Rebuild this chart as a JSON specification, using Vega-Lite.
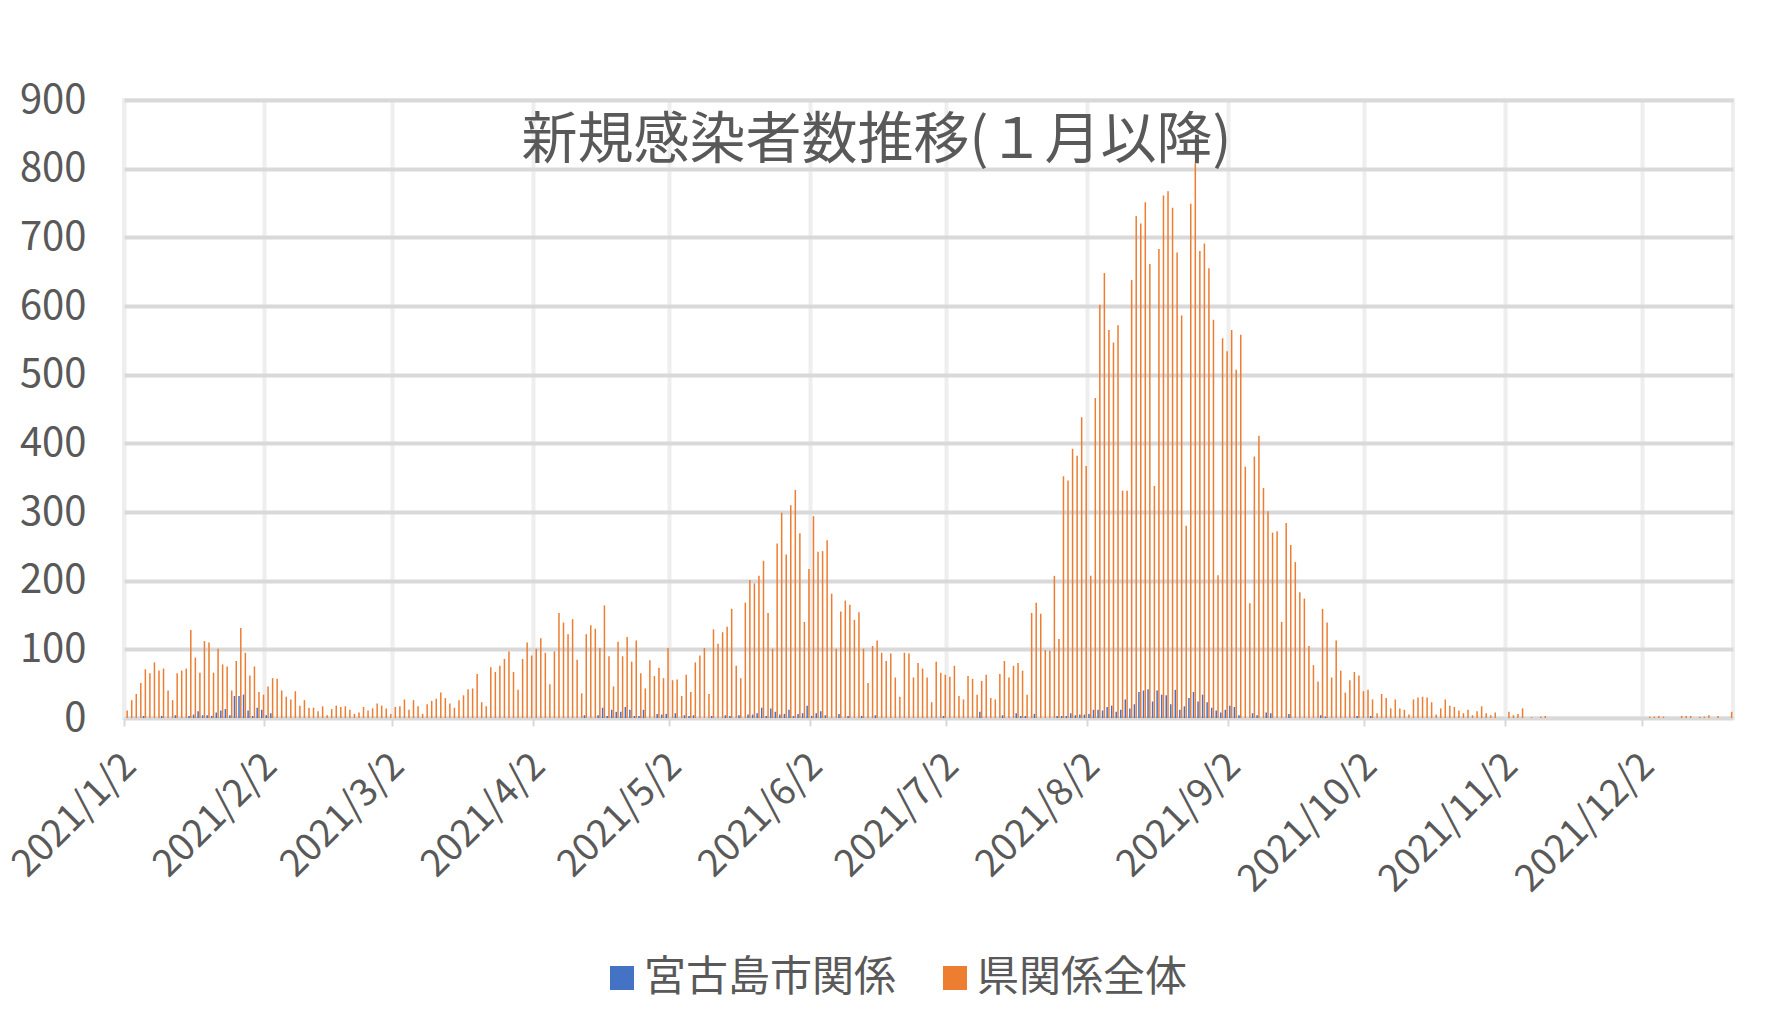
{
"$schema": "https://vega.github.io/schema/vega-lite/v6.json",
"width": 1609, "height": 618,
"autosize": {"type": "none"},
"padding": {"left": 124, "top": 100, "right": 35, "bottom": 293},
"background": "#ffffff",
"title": {"text": "新規感染者数推移(１月以降)", "fontSize": 56, "fontWeight": "normal", "color": "#595959", "anchor": "middle", "frame": "group", "offset": 0, "dx": -52, "dy": 90},
"data": {"values": [
{"d":"2021/1/2","m":0,"k":11},{"d":"2021/1/3","m":0,"k":26},{"d":"2021/1/4","m":0,"k":35},{"d":"2021/1/5","m":0,"k":51},{"d":"2021/1/6","m":3,"k":71},{"d":"2021/1/7","m":0,"k":65},{"d":"2021/1/8","m":0,"k":81},{"d":"2021/1/9","m":0,"k":69},{"d":"2021/1/10","m":3,"k":72},{"d":"2021/1/11","m":0,"k":40},{"d":"2021/1/12","m":0,"k":26},{"d":"2021/1/13","m":4,"k":65},{"d":"2021/1/14","m":0,"k":69},{"d":"2021/1/15","m":0,"k":72},{"d":"2021/1/16","m":3,"k":128},{"d":"2021/1/17","m":5,"k":88},{"d":"2021/1/18","m":10,"k":66},{"d":"2021/1/19","m":4,"k":112},{"d":"2021/1/20","m":4,"k":110},{"d":"2021/1/21","m":3,"k":66},{"d":"2021/1/22","m":8,"k":101},{"d":"2021/1/23","m":11,"k":78},{"d":"2021/1/24","m":13,"k":75},{"d":"2021/1/25","m":4,"k":40},{"d":"2021/1/26","m":32,"k":83},{"d":"2021/1/27","m":32,"k":131},{"d":"2021/1/28","m":34,"k":95},{"d":"2021/1/29","m":11,"k":62},{"d":"2021/1/30","m":3,"k":75},{"d":"2021/1/31","m":15,"k":38},
{"d":"2021/2/1","m":12,"k":34},{"d":"2021/2/2","m":4,"k":46},{"d":"2021/2/3","m":7,"k":58},{"d":"2021/2/4","m":0,"k":57},{"d":"2021/2/5","m":0,"k":40},{"d":"2021/2/6","m":0,"k":31},{"d":"2021/2/7","m":0,"k":27},{"d":"2021/2/8","m":0,"k":39},{"d":"2021/2/9","m":0,"k":18},{"d":"2021/2/10","m":0,"k":26},{"d":"2021/2/11","m":0,"k":15},{"d":"2021/2/12","m":0,"k":15},{"d":"2021/2/13","m":0,"k":10},{"d":"2021/2/14","m":0,"k":17},{"d":"2021/2/15","m":0,"k":4},{"d":"2021/2/16","m":0,"k":13},{"d":"2021/2/17","m":0,"k":18},{"d":"2021/2/18","m":0,"k":16},{"d":"2021/2/19","m":0,"k":17},{"d":"2021/2/20","m":0,"k":12},{"d":"2021/2/21","m":0,"k":6},{"d":"2021/2/22","m":0,"k":8},{"d":"2021/2/23","m":0,"k":16},{"d":"2021/2/24","m":0,"k":11},{"d":"2021/2/25","m":0,"k":14},{"d":"2021/2/26","m":0,"k":21},{"d":"2021/2/27","m":0,"k":18},{"d":"2021/2/28","m":0,"k":14},
{"d":"2021/3/1","m":0,"k":6},{"d":"2021/3/2","m":0,"k":16},{"d":"2021/3/3","m":0,"k":17},{"d":"2021/3/4","m":0,"k":27},{"d":"2021/3/5","m":0,"k":12},{"d":"2021/3/6","m":0,"k":26},{"d":"2021/3/7","m":0,"k":17},{"d":"2021/3/8","m":0,"k":6},{"d":"2021/3/9","m":0,"k":20},{"d":"2021/3/10","m":0,"k":25},{"d":"2021/3/11","m":0,"k":28},{"d":"2021/3/12","m":0,"k":37},{"d":"2021/3/13","m":0,"k":29},{"d":"2021/3/14","m":0,"k":21},{"d":"2021/3/15","m":0,"k":15},{"d":"2021/3/16","m":0,"k":26},{"d":"2021/3/17","m":0,"k":33},{"d":"2021/3/18","m":0,"k":42},{"d":"2021/3/19","m":0,"k":43},{"d":"2021/3/20","m":0,"k":64},{"d":"2021/3/21","m":0,"k":23},{"d":"2021/3/22","m":0,"k":17},{"d":"2021/3/23","m":0,"k":74},{"d":"2021/3/24","m":0,"k":67},{"d":"2021/3/25","m":0,"k":76},{"d":"2021/3/26","m":0,"k":86},{"d":"2021/3/27","m":0,"k":97},{"d":"2021/3/28","m":0,"k":67},{"d":"2021/3/29","m":0,"k":41},{"d":"2021/3/30","m":0,"k":86},{"d":"2021/3/31","m":0,"k":110},
{"d":"2021/4/1","m":0,"k":91},{"d":"2021/4/2","m":0,"k":101},{"d":"2021/4/3","m":0,"k":116},{"d":"2021/4/4","m":0,"k":95},{"d":"2021/4/5","m":0,"k":49},{"d":"2021/4/6","m":0,"k":97},{"d":"2021/4/7","m":0,"k":153},{"d":"2021/4/8","m":0,"k":139},{"d":"2021/4/9","m":0,"k":122},{"d":"2021/4/10","m":0,"k":144},{"d":"2021/4/11","m":0,"k":85},{"d":"2021/4/12","m":0,"k":36},{"d":"2021/4/13","m":4,"k":122},{"d":"2021/4/14","m":0,"k":135},{"d":"2021/4/15","m":0,"k":130},{"d":"2021/4/16","m":4,"k":102},{"d":"2021/4/17","m":15,"k":164},{"d":"2021/4/18","m":3,"k":90},{"d":"2021/4/19","m":12,"k":46},{"d":"2021/4/20","m":9,"k":111},{"d":"2021/4/21","m":9,"k":90},{"d":"2021/4/22","m":16,"k":118},{"d":"2021/4/23","m":12,"k":82},{"d":"2021/4/24","m":3,"k":113},{"d":"2021/4/25","m":3,"k":65},{"d":"2021/4/26","m":12,"k":43},{"d":"2021/4/27","m":0,"k":84},{"d":"2021/4/28","m":0,"k":61},{"d":"2021/4/29","m":6,"k":73},{"d":"2021/4/30","m":5,"k":58},
{"d":"2021/5/1","m":6,"k":102},{"d":"2021/5/2","m":0,"k":55},{"d":"2021/5/3","m":7,"k":56},{"d":"2021/5/4","m":0,"k":32},{"d":"2021/5/5","m":4,"k":63},{"d":"2021/5/6","m":3,"k":38},{"d":"2021/5/7","m":4,"k":81},{"d":"2021/5/8","m":0,"k":91},{"d":"2021/5/9","m":0,"k":102},{"d":"2021/5/10","m":0,"k":35},{"d":"2021/5/11","m":3,"k":129},{"d":"2021/5/12","m":0,"k":108},{"d":"2021/5/13","m":0,"k":125},{"d":"2021/5/14","m":4,"k":133},{"d":"2021/5/15","m":3,"k":159},{"d":"2021/5/16","m":0,"k":76},{"d":"2021/5/17","m":4,"k":58},{"d":"2021/5/18","m":0,"k":168},{"d":"2021/5/19","m":5,"k":201},{"d":"2021/5/20","m":5,"k":196},{"d":"2021/5/21","m":7,"k":207},{"d":"2021/5/22","m":15,"k":229},{"d":"2021/5/23","m":3,"k":153},{"d":"2021/5/24","m":14,"k":101},{"d":"2021/5/25","m":9,"k":254},{"d":"2021/5/26","m":5,"k":299},{"d":"2021/5/27","m":6,"k":238},{"d":"2021/5/28","m":12,"k":310},{"d":"2021/5/29","m":3,"k":332},{"d":"2021/5/30","m":6,"k":269},{"d":"2021/5/31","m":7,"k":140},
{"d":"2021/6/1","m":18,"k":217},{"d":"2021/6/2","m":3,"k":294},{"d":"2021/6/3","m":7,"k":242},{"d":"2021/6/4","m":10,"k":243},{"d":"2021/6/5","m":4,"k":259},{"d":"2021/6/6","m":0,"k":181},{"d":"2021/6/7","m":0,"k":101},{"d":"2021/6/8","m":6,"k":155},{"d":"2021/6/9","m":0,"k":171},{"d":"2021/6/10","m":3,"k":165},{"d":"2021/6/11","m":0,"k":143},{"d":"2021/6/12","m":0,"k":154},{"d":"2021/6/13","m":3,"k":101},{"d":"2021/6/14","m":0,"k":51},{"d":"2021/6/15","m":0,"k":105},{"d":"2021/6/16","m":4,"k":113},{"d":"2021/6/17","m":0,"k":95},{"d":"2021/6/18","m":0,"k":83},{"d":"2021/6/19","m":0,"k":94},{"d":"2021/6/20","m":0,"k":59},{"d":"2021/6/21","m":0,"k":31},{"d":"2021/6/22","m":0,"k":95},{"d":"2021/6/23","m":0,"k":94},{"d":"2021/6/24","m":0,"k":59},{"d":"2021/6/25","m":0,"k":80},{"d":"2021/6/26","m":0,"k":72},{"d":"2021/6/27","m":0,"k":59},{"d":"2021/6/28","m":0,"k":23},{"d":"2021/6/29","m":0,"k":82},{"d":"2021/6/30","m":0,"k":66},
{"d":"2021/7/1","m":3,"k":63},{"d":"2021/7/2","m":0,"k":60},{"d":"2021/7/3","m":0,"k":76},{"d":"2021/7/4","m":0,"k":32},{"d":"2021/7/5","m":0,"k":27},{"d":"2021/7/6","m":0,"k":61},{"d":"2021/7/7","m":0,"k":57},{"d":"2021/7/8","m":0,"k":34},{"d":"2021/7/9","m":9,"k":54},{"d":"2021/7/10","m":0,"k":63},{"d":"2021/7/11","m":0,"k":29},{"d":"2021/7/12","m":0,"k":27},{"d":"2021/7/13","m":0,"k":64},{"d":"2021/7/14","m":4,"k":83},{"d":"2021/7/15","m":0,"k":59},{"d":"2021/7/16","m":0,"k":76},{"d":"2021/7/17","m":7,"k":80},{"d":"2021/7/18","m":3,"k":69},{"d":"2021/7/19","m":3,"k":34},{"d":"2021/7/20","m":0,"k":153},{"d":"2021/7/21","m":6,"k":168},{"d":"2021/7/22","m":0,"k":152},{"d":"2021/7/23","m":0,"k":99},{"d":"2021/7/24","m":0,"k":98},{"d":"2021/7/25","m":0,"k":207},{"d":"2021/7/26","m":3,"k":115},{"d":"2021/7/27","m":3,"k":352},{"d":"2021/7/28","m":3,"k":346},{"d":"2021/7/29","m":7,"k":392},{"d":"2021/7/30","m":4,"k":382},{"d":"2021/7/31","m":5,"k":438},
{"d":"2021/8/1","m":5,"k":367},{"d":"2021/8/2","m":6,"k":207},{"d":"2021/8/3","m":12,"k":466},{"d":"2021/8/4","m":12,"k":602},{"d":"2021/8/5","m":11,"k":648},{"d":"2021/8/6","m":16,"k":565},{"d":"2021/8/7","m":18,"k":547},{"d":"2021/8/8","m":9,"k":572},{"d":"2021/8/9","m":12,"k":331},{"d":"2021/8/10","m":27,"k":331},{"d":"2021/8/11","m":14,"k":638},{"d":"2021/8/12","m":20,"k":731},{"d":"2021/8/13","m":38,"k":720},{"d":"2021/8/14","m":40,"k":751},{"d":"2021/8/15","m":42,"k":661},{"d":"2021/8/16","m":24,"k":338},{"d":"2021/8/17","m":40,"k":683},{"d":"2021/8/18","m":34,"k":761},{"d":"2021/8/19","m":33,"k":767},{"d":"2021/8/20","m":20,"k":743},{"d":"2021/8/21","m":41,"k":678},{"d":"2021/8/22","m":12,"k":586},{"d":"2021/8/23","m":17,"k":280},{"d":"2021/8/24","m":29,"k":749},{"d":"2021/8/25","m":38,"k":808},{"d":"2021/8/26","m":24,"k":680},{"d":"2021/8/27","m":34,"k":691},{"d":"2021/8/28","m":23,"k":655},{"d":"2021/8/29","m":15,"k":580},{"d":"2021/8/30","m":11,"k":208},{"d":"2021/8/31","m":8,"k":553},
{"d":"2021/9/1","m":12,"k":534},{"d":"2021/9/2","m":18,"k":565},{"d":"2021/9/3","m":16,"k":507},{"d":"2021/9/4","m":4,"k":558},{"d":"2021/9/5","m":0,"k":366},{"d":"2021/9/6","m":0,"k":167},{"d":"2021/9/7","m":7,"k":381},{"d":"2021/9/8","m":4,"k":411},{"d":"2021/9/9","m":0,"k":335},{"d":"2021/9/10","m":8,"k":301},{"d":"2021/9/11","m":7,"k":270},{"d":"2021/9/12","m":0,"k":272},{"d":"2021/9/13","m":0,"k":140},{"d":"2021/9/14","m":0,"k":284},{"d":"2021/9/15","m":6,"k":252},{"d":"2021/9/16","m":0,"k":227},{"d":"2021/9/17","m":0,"k":183},{"d":"2021/9/18","m":0,"k":174},{"d":"2021/9/19","m":0,"k":105},{"d":"2021/9/20","m":0,"k":77},{"d":"2021/9/21","m":0,"k":53},{"d":"2021/9/22","m":4,"k":159},{"d":"2021/9/23","m":2,"k":139},{"d":"2021/9/24","m":0,"k":59},{"d":"2021/9/25","m":0,"k":113},{"d":"2021/9/26","m":0,"k":69},{"d":"2021/9/27","m":0,"k":37},{"d":"2021/9/28","m":0,"k":55},{"d":"2021/9/29","m":0,"k":67},{"d":"2021/9/30","m":3,"k":62},
{"d":"2021/10/1","m":0,"k":39},{"d":"2021/10/2","m":0,"k":41},{"d":"2021/10/3","m":3,"k":27},{"d":"2021/10/4","m":0,"k":7},{"d":"2021/10/5","m":0,"k":35},{"d":"2021/10/6","m":0,"k":29},{"d":"2021/10/7","m":0,"k":14},{"d":"2021/10/8","m":0,"k":27},{"d":"2021/10/9","m":0,"k":14},{"d":"2021/10/10","m":0,"k":12},{"d":"2021/10/11","m":0,"k":5},{"d":"2021/10/12","m":0,"k":27},{"d":"2021/10/13","m":0,"k":30},{"d":"2021/10/14","m":0,"k":31},{"d":"2021/10/15","m":0,"k":30},{"d":"2021/10/16","m":0,"k":23},{"d":"2021/10/17","m":0,"k":5},{"d":"2021/10/18","m":0,"k":14},{"d":"2021/10/19","m":0,"k":27},{"d":"2021/10/20","m":0,"k":18},{"d":"2021/10/21","m":0,"k":16},{"d":"2021/10/22","m":0,"k":11},{"d":"2021/10/23","m":0,"k":7},{"d":"2021/10/24","m":0,"k":12},{"d":"2021/10/25","m":0,"k":4},{"d":"2021/10/26","m":0,"k":10},{"d":"2021/10/27","m":0,"k":17},{"d":"2021/10/28","m":0,"k":7},{"d":"2021/10/29","m":0,"k":4},{"d":"2021/10/30","m":0,"k":8},{"d":"2021/10/31","m":0,"k":0},
{"d":"2021/11/1","m":0,"k":0},{"d":"2021/11/2","m":0,"k":9},{"d":"2021/11/3","m":0,"k":4},{"d":"2021/11/4","m":0,"k":6},{"d":"2021/11/5","m":0,"k":14},{"d":"2021/11/6","m":0,"k":0},{"d":"2021/11/7","m":0,"k":1},{"d":"2021/11/8","m":0,"k":0},{"d":"2021/11/9","m":0,"k":2},{"d":"2021/11/10","m":0,"k":3},{"d":"2021/11/11","m":0,"k":0},{"d":"2021/11/12","m":0,"k":0},{"d":"2021/11/13","m":0,"k":0},{"d":"2021/11/14","m":0,"k":0},{"d":"2021/11/15","m":0,"k":0},{"d":"2021/11/16","m":0,"k":0},{"d":"2021/11/17","m":0,"k":0},{"d":"2021/11/18","m":0,"k":0},{"d":"2021/11/19","m":0,"k":0},{"d":"2021/11/20","m":0,"k":0},{"d":"2021/11/21","m":0,"k":0},{"d":"2021/11/22","m":0,"k":0},{"d":"2021/11/23","m":0,"k":0},{"d":"2021/11/24","m":0,"k":0},{"d":"2021/11/25","m":0,"k":0},{"d":"2021/11/26","m":0,"k":0},{"d":"2021/11/27","m":0,"k":0},{"d":"2021/11/28","m":0,"k":0},{"d":"2021/11/29","m":0,"k":0},{"d":"2021/11/30","m":0,"k":0},
{"d":"2021/12/1","m":0,"k":0},{"d":"2021/12/2","m":0,"k":0},{"d":"2021/12/3","m":0,"k":2},{"d":"2021/12/4","m":0,"k":2},{"d":"2021/12/5","m":0,"k":3},{"d":"2021/12/6","m":0,"k":2},{"d":"2021/12/7","m":0,"k":0},{"d":"2021/12/8","m":0,"k":0},{"d":"2021/12/9","m":0,"k":0},{"d":"2021/12/10","m":0,"k":3},{"d":"2021/12/11","m":0,"k":3},{"d":"2021/12/12","m":0,"k":3},{"d":"2021/12/13","m":0,"k":0},{"d":"2021/12/14","m":0,"k":2},{"d":"2021/12/15","m":0,"k":2},{"d":"2021/12/16","m":0,"k":4},{"d":"2021/12/17","m":0,"k":0},{"d":"2021/12/18","m":0,"k":3},{"d":"2021/12/19","m":0,"k":0},{"d":"2021/12/20","m":0,"k":0},{"d":"2021/12/21","m":0,"k":9}
]},
"encoding": {
  "x": {"field": "d", "type": "ordinal", "sort": null,
        "scale": {"type": "band", "paddingInner": 0, "paddingOuter": 0},
        "axis": {"values": ["2021/1/2","2021/2/2","2021/3/2","2021/4/2","2021/5/2","2021/6/2","2021/7/2","2021/8/2","2021/9/2","2021/10/2","2021/11/2","2021/12/2"], "title": null}}
},
"layer": [
  {"mark": {"type": "bar", "width": 1.5, "xOffset": -0.9},
   "encoding": {
     "y": {"field": "m", "type": "quantitative", "scale": {"domain": [0, 900], "nice": false}, "axis": {"values": [0,100,200,300,400,500,600,700,800,900], "title": null}},
     "color": {"datum": "宮古島市関係", "type": "nominal", "scale": {"domain": ["宮古島市関係", "県関係全体"], "range": ["#4472C4", "#ED7D31"]}, "legend": {"title": null, "orient": "none", "legendX": 477, "legendY": 857, "direction": "horizontal"}}
   }},
  {"mark": {"type": "bar", "width": 1.5, "xOffset": 0.9},
   "encoding": {
     "y": {"field": "k", "type": "quantitative", "scale": {"domain": [0, 900], "nice": false}, "axis": {"values": [0,100,200,300,400,500,600,700,800,900], "title": null}},
     "color": {"datum": "県関係全体", "type": "nominal", "scale": {"domain": ["宮古島市関係", "県関係全体"], "range": ["#4472C4", "#ED7D31"]}, "legend": {"title": null, "orient": "none", "legendX": 477, "legendY": 857, "direction": "horizontal"}}
   }}
],
"config": {
  "font": "Noto Sans CJK JP",
  "view": {"stroke": "#eeeeee", "strokeWidth": 4},
  "axisY": {"labelFontSize": 40, "labelColor": "#595959", "grid": true, "gridColor": "#d9d9d9", "gridWidth": 4, "domain": false, "ticks": false, "labelPadding": 38},
  "axisX": {"labelFontSize": 38, "labelColor": "#595959", "labelAngle": -45, "labelAlign": "right", "labelBaseline": "middle", "labelLimit": 0, "labelOffset": 4, "grid": true, "gridColor": "#eeeeee", "gridWidth": 4, "domain": false, "ticks": true, "tickColor": "#d9d9d9", "tickSize": 8, "tickWidth": 2, "labelPadding": 34, "bandPosition": 0},
  "legend": {"symbolType": "square", "symbolSize": 576, "symbolStrokeWidth": 0, "labelFontSize": 42, "labelColor": "#595959", "columnPadding": 37, "labelOffset": 1, "labelLimit": 0}
}
}
